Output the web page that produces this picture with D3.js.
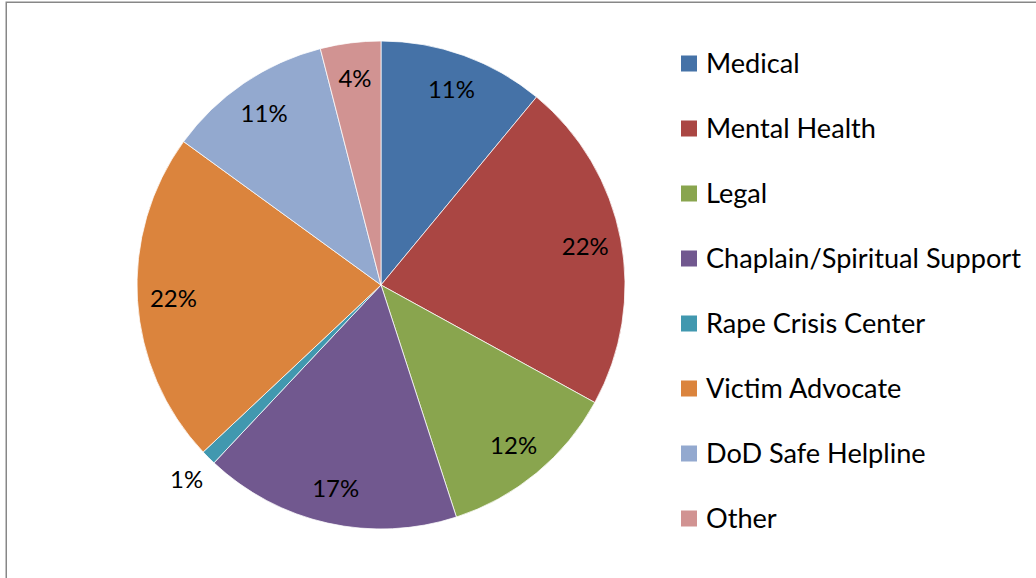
<!DOCTYPE html>
<html>
<head>
<meta charset="utf-8">
<script src="https://cdn.jsdelivr.net/npm/d3@7"></script>
<style>
  html, body { margin: 0; padding: 0; background: #fff; }
  svg { display: block; }
</style>
</head>
<body>
<div id="chart"></div>
<script>
// data
const categories = ['Medical', 'Mental Health', 'Legal', 'Chaplain/Spiritual Support',
                    'Rape Crisis Center', 'Victim Advocate', 'DoD Safe Helpline', 'Other'];
const shares = [11, 22, 12, 17, 1, 22, 11, 4];
const colours = ['#4572A7', '#AA4643', '#89A54E', '#71588F',
                 '#4198AF', '#DB843D', '#93A9CF', '#D19392'];

const W = 1036, H = 578;
const CX = 381, CY = 285, R = 244;
const FONT = 'Lato, "Open Sans", sans-serif';

const svg = d3.select('#chart').append('svg')
  .attr('width', W).attr('height', H);

// outer chart frame (cut off on right/bottom)
svg.append('rect')
  .attr('x', 6.25).attr('y', 2.25)
  .attr('width', 1200).attr('height', 800)
  .attr('fill', 'none')
  .attr('stroke', '#878787')
  .attr('stroke-width', 1.5);

// pick a font size so a sample string takes the given width
function fitSize(str, targetW) {
  const t = svg.append('text').attr('font-family', FONT).attr('font-size', 100).text(str);
  const w = t.node().getComputedTextLength();
  t.remove();
  return 100 * targetW / w;
}
const legendSize = fitSize('Chaplain/Spiritual Support', 315);
const labelSize = fitSize('22%', 47);

const data = categories.map((name, i) => ({ name, value: shares[i], colour: colours[i] }));

const pie = d3.pie().sort(null).value(d => d.value);
const arcs = pie(data);
const arc = d3.arc().innerRadius(0).outerRadius(R);

const g = svg.append('g').attr('transform', `translate(${CX},${CY})`);

g.selectAll('path.slice')
  .data(arcs)
  .join('path')
  .attr('class', 'slice')
  .attr('d', arc)
  .attr('fill', d => d.data.colour)
  .attr('stroke', '#fff')
  .attr('stroke-width', 0.75)
  .attr('stroke-linejoin', 'round');

// labels: inside for most, outside for the tiny slice
const inner = d3.arc().innerRadius(208).outerRadius(208);
const outer = d3.arc().innerRadius(275).outerRadius(275);

g.selectAll('text.lbl')
  .data(arcs)
  .join('text')
  .attr('class', 'lbl')
  .attr('transform', d => `translate(${(d.data.value < 3 ? outer : inner).centroid(d)})`)
  .attr('text-anchor', 'middle')
  .attr('dy', '0.36em')
  .attr('font-family', FONT)
  .attr('font-size', labelSize)
  .attr('fill', '#000')
  .text(d => d.data.value + '%');

// legend
const legY = d3.scalePoint().domain(categories).range([63.5, 518.5]);

const leg = svg.append('g').selectAll('g')
  .data(data)
  .join('g')
  .attr('transform', d => `translate(681,${legY(d.name)})`);

leg.append('rect')
  .attr('x', 0).attr('y', -8)
  .attr('width', 16).attr('height', 16)
  .attr('fill', d => d.colour);

leg.append('text')
  .attr('x', 25)
  .attr('dy', '0.36em')
  .attr('font-family', FONT)
  .attr('font-size', legendSize)
  .attr('fill', '#000')
  .text(d => d.name);
</script>
</body>
</html>
